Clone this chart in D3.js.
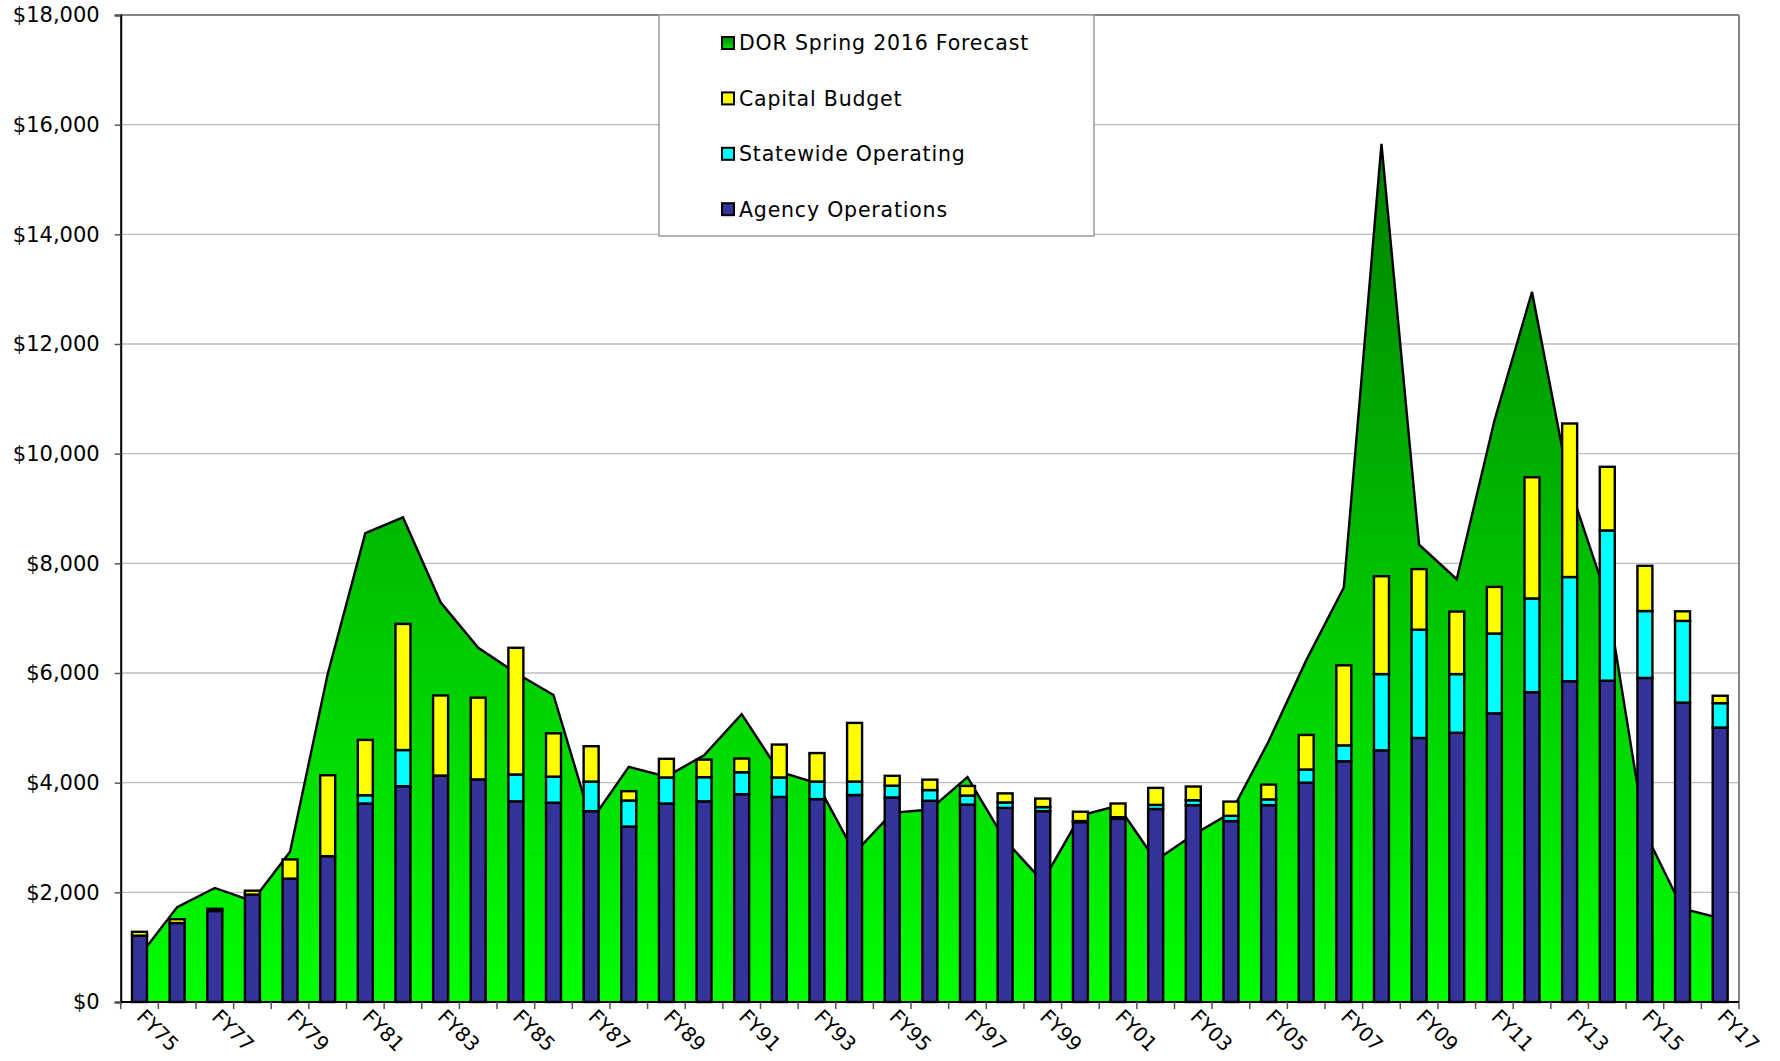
<!DOCTYPE html>
<html>
<head>
<meta charset="utf-8">
<script src="https://cdn.jsdelivr.net/npm/d3@7"></script>
<style>
    body { margin: 0; background: #fff; }
    text { font-family: "DejaVu Sans", Verdana, sans-serif; fill: #000; }
</style>
</head>
<body>
<div id="chart"></div>
<script>
//Data, $ millions by fiscal year
let years = ["FY75", "FY76", "FY77", "FY78", "FY79", "FY80", "FY81", "FY82", "FY83", "FY84",
    "FY85", "FY86", "FY87", "FY88", "FY89", "FY90", "FY91", "FY92", "FY93", "FY94",
    "FY95", "FY96", "FY97", "FY98", "FY99", "FY00", "FY01", "FY02", "FY03", "FY04",
    "FY05", "FY06", "FY07", "FY08", "FY09", "FY10", "FY11", "FY12", "FY13", "FY14",
    "FY15", "FY16", "FY17"];
let agency = [1210, 1440, 1660, 1960, 2250, 2660, 3620, 3935, 4130, 4060,
    3660, 3635, 3480, 3200, 3620, 3660, 3790, 3740, 3700, 3775,
    3730, 3670, 3600, 3540, 3480, 3280, 3340, 3520, 3590, 3300,
    3590, 4000, 4390, 4590, 4815, 4910, 5265, 5650, 5850, 5860,
    5910, 5460, 5005];
let statewide = [0, 0, 0, 0, 0, 0, 150, 660, 0, 0,
    490, 475, 540, 475, 475, 440, 400, 355, 320, 245,
    215, 195, 165, 100, 75, 20, 30, 75, 90, 95,
    105, 240, 290, 1390, 1975, 1070, 1455, 1710, 1900, 2740,
    1220, 1490, 445];
let capital = [70, 70, 40, 70, 350, 1475, 1010, 2300, 1460, 1490,
    2310, 790, 645, 170, 340, 320, 250, 600, 520, 1070,
    180, 190, 175, 165, 155, 170, 250, 310, 250, 260,
    270, 630, 1460, 1785, 1105, 1140, 850, 2210, 2800, 1160,
    825, 175, 135];
let forecast = [840, 1730, 2080, 1840, 2740, 5980, 8550, 8840, 7290, 6460,
    6000, 5600, 3300, 4290, 4110, 4500, 5250, 4200, 3990, 2720,
    3450, 3510, 4100, 2950, 2200, 3400, 3580, 2580, 3050, 3450,
    4750, 6230, 7560, 15650, 8340, 7710, 10600, 12950, 9400, 7350,
    3100, 1700, 1530];
let yTicks = [0, 2000, 4000, 6000, 8000, 10000, 12000, 14000, 16000, 18000];
let xLabels = years.filter(function (d, i) { return i % 2 === 0; });
let legendNames = ["DOR Spring 2016 Forecast", "Capital Budget", "Statewide Operating", "Agency Operations"];

//dimensions
let width = 1780;
let height = 1061;
let plotLeft = 120.7;
let plotRight = 1739;
let plotTop = 15;
let plotBottom = 1002;
let barWidth = 15;

let svg = d3.select("#chart")
    .append("svg")
    .attr("width", width)
    .attr("height", height);

let x = d3.scaleBand()
    .domain(years)
    .range([plotLeft, plotRight])
    .padding(0);

let y = d3.scaleLinear()
    .domain([0, 18000])
    .range([plotBottom, plotTop]);

let cx = function (d) { return x(d) + x.bandwidth() / 2; };

// green gradient of the forecast area, bright at $0 and darker going up
let defs = svg.append("defs");
let grad = defs.append("linearGradient")
    .attr("id", "areaGrad")
    .attr("gradientUnits", "userSpaceOnUse")
    .attr("x1", 0).attr("x2", 0)
    .attr("y1", y(0)).attr("y2", y(d3.max(forecast)));
grad.append("stop").attr("offset", 0).attr("stop-color", "#00ff00");
grad.append("stop").attr("offset", 1).attr("stop-color", "#008000");

let legendGrad = defs.append("linearGradient")
    .attr("id", "legendGrad")
    .attr("x1", 0).attr("x2", 0).attr("y1", 0).attr("y2", 1);
legendGrad.append("stop").attr("offset", 0).attr("stop-color", "#008a00");
legendGrad.append("stop").attr("offset", 1).attr("stop-color", "#00e000");

// gridlines
svg.append("g")
    .selectAll("line")
    .data(yTicks.slice(1, -1))
    .enter()
    .append("line")
    .attr("x1", plotLeft)
    .attr("x2", plotRight)
    .attr("y1", function (d) { return y(d); })
    .attr("y2", function (d) { return y(d); })
    .attr("stroke", "#bdbdbd")
    .attr("stroke-width", 1.3);

// forecast area
let area = d3.area()
    .x(function (d, i) { return cx(years[i]); })
    .y0(y(0))
    .y1(function (d) { return y(d); });

let line = d3.line()
    .x(function (d, i) { return cx(years[i]); })
    .y(function (d) { return y(d); });

svg.append("path")
    .datum(forecast)
    .attr("d", area)
    .attr("fill", "url(#areaGrad)");

svg.append("path")
    .datum(forecast)
    .attr("d", line)
    .attr("fill", "none")
    .attr("stroke", "#000")
    .attr("stroke-width", 2.4)
    .attr("stroke-linejoin", "miter");

// stacked bars
let rows = years.map(function (d, i) {
    return { year: d, agency: agency[i], statewide: statewide[i], capital: capital[i] };
});
let stack = d3.stack().keys(["agency", "statewide", "capital"]);
let color = d3.scaleOrdinal()
    .domain(["agency", "statewide", "capital"])
    .range(["#333399", "#00ffff", "#ffff00"]);

svg.append("g")
    .selectAll("g")
    .data(stack(rows))
    .enter()
    .append("g")
    .attr("fill", function (d) { return color(d.key); })
    .selectAll("rect")
    .data(function (d) { return d; })
    .enter()
    .append("rect")
    .attr("x", function (d) { return cx(d.data.year) - barWidth / 2; })
    .attr("width", barWidth)
    .attr("y", function (d) { return y(d[1]); })
    .attr("height", function (d) { return y(d[0]) - y(d[1]); })
    .attr("stroke", "#000")
    .attr("stroke-width", 2.4);

// frame: gray top and right, black axes
svg.append("line")
    .attr("x1", plotLeft).attr("x2", plotRight)
    .attr("y1", plotTop).attr("y2", plotTop)
    .attr("stroke", "#858585").attr("stroke-width", 2);
svg.append("line")
    .attr("x1", plotRight).attr("x2", plotRight)
    .attr("y1", plotTop).attr("y2", plotBottom)
    .attr("stroke", "#858585").attr("stroke-width", 2);

let yAxis = svg.append("g")
    .attr("transform", "translate(" + plotLeft + ",0)")
    .call(d3.axisLeft(y)
        .tickValues(yTicks)
        .tickSize(6)
        .tickPadding(15)
        .tickFormat(function (d) { return "$" + d3.format(",")(d); }));
yAxis.select(".domain").attr("stroke", "#000").attr("stroke-width", 2);
yAxis.selectAll(".tick line").attr("stroke", "#555").attr("stroke-width", 1.5);
yAxis.selectAll("text")
    .style("font-size", "21px")
    .attr("fill", "#000");

// x axis: ticks on the band edges, labels every other year
let xAxisG = svg.append("g");
xAxisG.append("line")
    .attr("x1", plotLeft).attr("x2", plotRight)
    .attr("y1", plotBottom).attr("y2", plotBottom)
    .attr("stroke", "#000").attr("stroke-width", 2);
xAxisG.selectAll(".xtick")
    .data(years.concat(["end"]))
    .enter()
    .append("line")
    .attr("class", "xtick")
    .attr("x1", function (d) { return d === "end" ? plotRight : x(d); })
    .attr("x2", function (d) { return d === "end" ? plotRight : x(d); })
    .attr("y1", plotBottom)
    .attr("y2", plotBottom + 7)
    .attr("stroke", "#555")
    .attr("stroke-width", 1.5);
xAxisG.selectAll(".xlabel")
    .data(xLabels)
    .enter()
    .append("text")
    .attr("class", "xlabel")
    .attr("transform", function (d) {
        return "translate(" + (cx(d) - 4) + "," + (plotBottom + 16) + ") rotate(45)";
    })
    .style("font-size", "20px")
    .text(function (d) { return d; });

// legend
let legend = svg.append("g");
legend.append("rect")
    .attr("x", 659)
    .attr("y", plotTop)
    .attr("width", 435)
    .attr("height", 221)
    .attr("fill", "#fff")
    .attr("stroke", "#9a9a9a")
    .attr("stroke-width", 1.5);

let legendFill = ["url(#legendGrad)", "#ffff00", "#00ffff", "#333399"];
let legendRows = legend.selectAll(".item")
    .data(legendNames)
    .enter()
    .append("g")
    .attr("class", "item")
    .attr("transform", function (d, i) { return "translate(722," + (43 + i * 55.4) + ")"; });
legendRows.append("rect")
    .attr("x", 0)
    .attr("y", -6)
    .attr("width", 12)
    .attr("height", 12)
    .attr("fill", function (d, i) { return legendFill[i]; })
    .attr("stroke", "#000")
    .attr("stroke-width", 2);
legendRows.append("text")
    .attr("x", 17)
    .attr("dy", "0.36em")
    .style("font-size", "20.5px")
    .style("letter-spacing", "0.8px")
    .text(function (d) { return d; });
</script>
</body>
</html>
